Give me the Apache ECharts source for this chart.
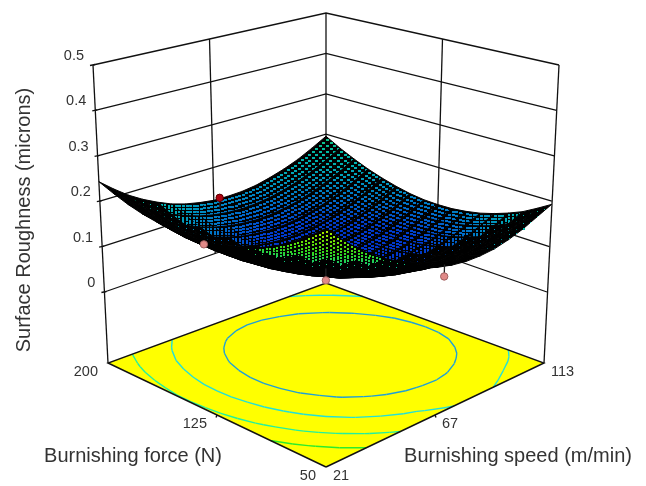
<!DOCTYPE html>
<html>
<head>
<meta charset="utf-8">
<style>html,body{margin:0;padding:0;background:#fff}#c{width:646px;height:486px}</style>
<script src="https://cdn.jsdelivr.net/npm/echarts@6/dist/echarts.min.js"></script>
</head>
<body>
<div id="c"></div>
<script>
const speedTicks = [21, 67, 113];
const forceTicks = [50, 125, 200];
const roughnessTicks = [0, 0.1, 0.2, 0.3, 0.4, 0.5];
const contourLevels = [0.103, 0.15, 0.20, 0.25];
const speedGrid = [21,26.75,32.5,38.25,44,49.75,55.5,61.25,67,72.75,78.5,84.25,90,95.75,101.5,107.25,113];
const forceGrid = [50,59.375,68.75,78.125,87.5,96.875,106.25,115.625,125,134.375,143.75,153.125,162.5,171.875,181.25,190.625,200];
// rows: force 50 -> 200, columns: speed 21 -> 113
const roughness = [
[.333,.302,.274,.249,.227,.208,.191,.174,.160,.152,.147,.146,.148,.155,.165,.179,.193],
[.309,.278,.250,.226,.204,.185,.169,.156,.147,.140,.136,.135,.137,.142,.150,.161,.175],
[.287,.256,.229,.205,.184,.165,.150,.137,.128,.121,.117,.117,.119,.124,.133,.144,.158],
[.267,.237,.210,.187,.166,.147,.132,.120,.111,.105,.102,.101,.104,.110,.118,.130,.145],
[.251,.221,.194,.171,.150,.132,.118,.106,.097,.091,.088,.089,.092,.098,.107,.119,.134],
[.236,.207,.181,.157,.137,.120,.105,.094,.086,.080,.078,.078,.082,.088,.097,.110,.125],
[.224,.195,.170,.147,.127,.110,.096,.085,.077,.071,.069,.070,.074,.081,.090,.103,.119],
[.215,.186,.161,.138,.119,.102,.088,.078,.070,.065,.063,.065,.069,.076,.086,.099,.115],
[.208,.180,.155,.133,.113,.097,.084,.073,.066,.062,.060,.062,.066,.074,.085,.098,.114],
[.204,.176,.151,.129,.110,.094,.081,.072,.065,.061,.059,.061,.066,.074,.085,.099,.115],
[.202,.174,.150,.128,.110,.094,.082,.072,.066,.062,.061,.063,.069,.077,.088,.102,.119],
[.202,.175,.151,.130,.112,.097,.085,.075,.069,.066,.065,.068,.074,.082,.094,.108,.126],
[.206,.179,.155,.134,.117,.102,.090,.081,.075,.072,.072,.075,.081,.090,.102,.117,.135],
[.211,.185,.161,.141,.124,.109,.098,.089,.084,.081,.081,.085,.091,.100,.112,.128,.146],
[.219,.193,.170,.150,.133,.119,.108,.100,.095,.092,.093,.097,.103,.113,.126,.141,.160],
[.230,.204,.182,.162,.145,.132,.121,.113,.108,.106,.107,.111,.118,.128,.141,.157,.176],
[.243,.218,.195,.176,.160,.146,.136,.129,.124,.123,.124,.128,.136,.146,.159,.176,.195]
];
// design points: speed, force, measured roughness, fitted roughness under/over it
const pointSpeed   = [67, 21, 67, 69.5];
const pointForce   = [196, 131, 125, 50];
const pointMeasured= [0.135, 0.200, 0.040, 0.135];
const pointFitted  = [0.112, 0.205, 0.066, 0.160];

// ---- view geometry (front, right, left, back corners)
const Z0  = [[326,395],[547,292],[104.4,292],[326,215]];
const Z5  = [[326,145],[559,65],[93,65],[326,13]];
const FLO = [[326,467],[544,363],[108,363],[326,283]];
function bil(c, s, f, k){
  return (1-s)*(1-f)*c[0][k] + s*(1-f)*c[1][k] + (1-s)*f*c[2][k] + s*f*c[3][k];
}
const nS = v => (v-21)/92, nF = v => (v-50)/150;
function proj(speed, force, z){
  const s=nS(speed), f=nF(force), t=z/0.5;
  return [bil(Z0,s,f,0)*(1-t)+bil(Z5,s,f,0)*t, bil(Z0,s,f,1)*(1-t)+bil(Z5,s,f,1)*t];
}
function floorP(speed, force){
  const s=nS(speed), f=nF(force);
  return [bil(FLO,s,f,0), bil(FLO,s,f,1)];
}
const ramp = [[.05,[0,45,205]],[.08,[0,60,205]],[.105,[0,110,200]],[.14,[0,165,185]],[.17,[0,185,165]],[.20,[20,200,120]],[.25,[50,215,30]],[.30,[120,225,0]],[.335,[190,235,0]]];
function colorOf(z){
  if(z<=ramp[0][0]) return 'rgb('+ramp[0][1]+')';
  for(let i=1;i<ramp.length;i++){
    if(z<=ramp[i][0]){
      const t=(z-ramp[i-1][0])/(ramp[i][0]-ramp[i-1][0]);
      const a=ramp[i-1][1], b=ramp[i][1];
      return 'rgb('+a.map((v,k)=>Math.round(v+(b[k]-v)*t)).join(',')+')';
    }
  }
  return 'rgb('+ramp[ramp.length-1][1]+')';
}
const INK='#111', TXT='#333', FONT='"Liberation Sans", Arial, sans-serif';
const pl=(pts,w,col)=>({type:'polyline',silent:true,shape:{points:pts},style:{stroke:col||INK,lineWidth:w||1.3,fill:null}});

// ---- surface cells, painted back to front
const cells=[];
for(let j=forceGrid.length-2;j>=0;j--) for(let i=speedGrid.length-2;i>=0;i--) cells.push([speedGrid[i],forceGrid[j],i,j]);
const SUB=4;
function renderCell(params, api){
  const i=api.value(2), j=api.value(3);
  const node=(a,b)=>api.coord(proj(speedGrid[a],forceGrid[b],roughness[b][a]));
  const p00=node(i,j),p10=node(i+1,j),p01=node(i,j+1),p11=node(i+1,j+1);
  const z00=roughness[j][i],z10=roughness[j][i+1],z01=roughness[j+1][i],z11=roughness[j+1][i+1];
  const kids=[{type:'polygon',silent:true,shape:{points:[p00,p10,p11,p01]},style:{fill:'#000',stroke:'#000',lineWidth:1}}];
  const at=(a,b,k)=>(1-a)*(1-b)*p00[k]+a*(1-b)*p10[k]+(1-a)*b*p01[k]+a*b*p11[k];
  for(let b=SUB-1;b>=0;b--) for(let a=SUB-1;a>=0;a--){
    const a0=a/SUB,a1=(a+1)/SUB,b0=b/SUB,b1=(b+1)/SUB,am=(a0+a1)/2,bm=(b0+b1)/2;
    const e1=[at(a1,bm,0)-at(a0,bm,0),at(a1,bm,1)-at(a0,bm,1)];
    const e2=[at(am,b1,0)-at(am,b0,0),at(am,b1,1)-at(am,b0,1)];
    const cross=e1[0]*e2[1]-e1[1]*e2[0];
    const sz=Math.sqrt(Math.abs(cross))-1.3;
    // mesh lines close up where the sheet is seen at a grazing angle
    const top=cross<0, lo=top?1.15:1.25, mid=lo+0.45;
    if(sz<lo) continue;
    if(sz<mid && ((i*SUB+a)%2 || (j*SUB+b)%2)) continue;
    const w=(top&&sz>=1.9)?3:(sz>=mid?2:1), h=sz>=mid?2:1;
    const z=(1-am)*(1-bm)*z00+am*(1-bm)*z10+(1-am)*bm*z01+am*bm*z11;
    kids.push({type:'rect',silent:true,shape:{x:Math.round(at(am,bm,0)),y:Math.round(at(am,bm,1)),width:w,height:h},style:{fill:colorOf(z)}});
  }
  return {type:'group',children:kids};
}

// ---- floor contours by marching squares over the table
const levelColor=['#1e9fd8','#22e0d8','#22f0a0','#2cec2c'];
function renderContour(params, api){
  const L=api.value(2), col=levelColor[params.dataIndex], kids=[];
  for(let j=0;j<forceGrid.length-1;j++) for(let i=0;i<speedGrid.length-1;i++){
    const q=[[i,j],[i+1,j],[i+1,j+1],[i,j+1]];
    const hits=[];
    for(let e=0;e<4;e++){
      const A=q[e],B=q[(e+1)%4];
      const za=roughness[A[1]][A[0]],zb=roughness[B[1]][B[0]];
      if((za<L)!==(zb<L)){
        const t=(L-za)/(zb-za);
        const sp=speedGrid[A[0]]+(speedGrid[B[0]]-speedGrid[A[0]])*t;
        const fo=forceGrid[A[1]]+(forceGrid[B[1]]-forceGrid[A[1]])*t;
        hits.push(api.coord(floorP(sp,fo)));
      }
    }
    if(hits.length>=2) kids.push(pl([hits[0],hits[1]],1.4,col));
    if(hits.length===4) kids.push(pl([hits[2],hits[3]],1.4,col));
  }
  return {type:'group',children:kids};
}

const S0=speedTicks[0],S1=speedTicks[1],S2=speedTicks[2],F0=forceTicks[0],F1=forceTicks[1],F2=forceTicks[2];
const Ztop=roughnessTicks[roughnessTicks.length-1];
function renderWallLine(params, api){
  const z=api.value(2), c=p=>api.coord(p);
  const a=c(proj(S0,F2,z)),b=c(proj(S2,F2,z)),d=c(proj(S2,F0,z));
  return {type:'group',children:[pl([a,b,d]),pl([[a[0]-3,a[1]+.5],[a[0]+2,a[1]-.5]])]};
}
function renderColumns(params, api){
  const c=p=>api.coord(p);
  const col=(s,f)=>pl([c(floorP(s,f)),c(proj(s,f,Ztop))]);
  const mid=(s,f)=>pl([c(proj(s,f,0)),c(proj(s,f,Ztop))]);
  return {type:'group',children:[col(S0,F2),col(S2,F2),col(S2,F0),mid(S1,F2),mid(S2,F1)]};
}
function renderFloor(params, api){
  const c=p=>api.coord(p);
  const pts=[c(floorP(S0,F0)),c(floorP(S2,F0)),c(floorP(S2,F2)),c(floorP(S0,F2))];
  return {type:'polygon',silent:true,shape:{points:pts},style:{fill:'#ffff00'}};
}
function renderFloorEdge(params, api){
  const c=p=>api.coord(p);
  const pts=[c(floorP(S0,F0)),c(floorP(S2,F0)),c(floorP(S2,F2)),c(floorP(S0,F2)),c(floorP(S0,F0))];
  const t1=c(floorP(S1,F0)),t2=c(floorP(S0,F1));
  return {type:'group',children:[pl(pts,1.4),pl([t1,[t1[0]+1,t1[1]+2.5]],1.4),pl([t2,[t2[0]-1,t2[1]+2.5]],1.4)]};
}
const txt=(x,y,t,align)=>({type:'text',silent:true,style:{x:x,y:y,text:t,fill:TXT,font:'14.5px '+FONT,textAlign:align,textVerticalAlign:'middle'}});
function renderZLabel(params, api){
  const z=api.value(2), p=api.coord(proj(S0,F2,z));
  return txt(p[0]-9, p[1]-9, String(z), 'right');
}
function renderForceLabel(params, api){
  const f=api.value(2), p=api.coord(floorP(S0,f));
  return txt(p[0]-10, p[1]+9, String(f), 'right');
}
function renderSpeedLabel(params, api){
  const s=api.value(2), p=api.coord(floorP(s,F0));
  return txt(p[0]+7, p[1]+9, String(s), 'left');
}
function renderPoint(params, api){
  const k=params.dataIndex;
  const sp=pointSpeed[k],fo=pointForce[k],m=pointMeasured[k],ft=pointFitted[k];
  const p=api.coord(proj(sp,fo,m)), q=api.coord(proj(sp,fo,ft));
  const above=m>ft;
  return {type:'group',children:[
    pl([p,q],1.3,'#222'),
    {type:'circle',silent:true,shape:{cx:p[0],cy:p[1],r:3.7},style:{fill:above?'#b00010':'#e08a88',stroke:above?'#5a0000':'#a06060',lineWidth:1}}
  ]};
}
const custom=(id,data,fn,z)=>({id:id,type:'custom',coordinateSystem:'cartesian2d',data:data,renderItem:fn,z:z,clip:false,progressive:0,animation:false,silent:true,encode:{x:0,y:1}});

const chart=echarts.init(document.getElementById('c'),null,{renderer:'canvas',width:646,height:486});
chart.setOption({
  animation:false,
  backgroundColor:'#fff',
  grid:{left:0,right:0,top:0,bottom:0},
  xAxis:{type:'value',min:0,max:646,show:false},
  yAxis:{type:'value',min:0,max:486,inverse:true,show:false},
  graphic:[
    {type:'text',silent:true,x:24,y:220,rotation:Math.PI/2,style:{text:'Surface Roughness (microns)',font:'20px '+FONT,fill:TXT,textAlign:'center',textVerticalAlign:'middle'}},
    {type:'text',silent:true,x:133,y:456,style:{text:'Burnishing force (N)',font:'20px '+FONT,fill:TXT,textAlign:'center',textVerticalAlign:'middle'}},
    {type:'text',silent:true,x:518,y:456,style:{text:'Burnishing speed (m/min)',font:'20px '+FONT,fill:TXT,textAlign:'center',textVerticalAlign:'middle'}}
  ],
  series:[
    custom('walls',roughnessTicks.map(z=>[0,0,z]),renderWallLine,1),
    custom('columns',[[0,0,0]],renderColumns,2),
    custom('floor',[[0,0,0]],renderFloor,3),
    custom('contours',contourLevels.map(l=>[0,0,l]),renderContour,4),
    custom('floorEdge',[[0,0,0]],renderFloorEdge,5),
    custom('zLabels',roughnessTicks.map(z=>[0,0,z]),renderZLabel,6),
    custom('forceLabels',forceTicks.map(v=>[0,0,v]),renderForceLabel,6),
    custom('speedLabels',speedTicks.map(v=>[0,0,v]),renderSpeedLabel,6),
    custom('surface',cells,renderCell,7),
    custom('points',pointSpeed.map((s,k)=>[s,pointForce[k],pointMeasured[k]]),renderPoint,8)
  ]
});
</script>
</body>
</html>
